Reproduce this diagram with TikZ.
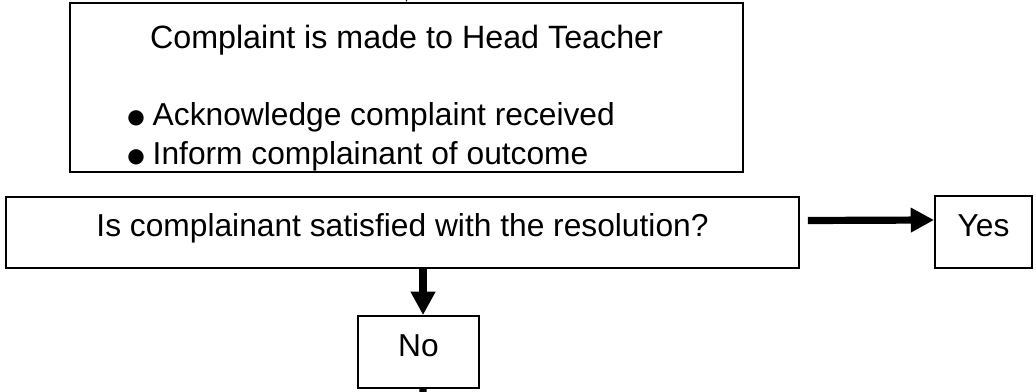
\documentclass[tikz,border=0pt]{standalone}
\usepackage{fontspec}
\setmainfont{Liberation Sans}
\newfontfamily\symfont{DejaVu Sans}
\usetikzlibrary{arrows.meta}
\newcommand{\blt}{\raisebox{1.5pt}{\symfont\fontsize{15}{15}\selectfont ●}}

\begin{document}
\begin{tikzpicture}[x=0.75pt,y=-0.75pt,
  box/.style={draw, line width=1.4pt, inner sep=0pt},
  txt/.style={inner sep=0pt, font=\fontsize{23.8}{28}\selectfont},
  arr/.style={line width=5.4pt, -{Triangle[length=17.5pt,width=17.5pt]}}]
\useasboundingbox (0,0) rectangle (1036,392);
% boxes
\node[box, minimum width=673*0.75pt, minimum height=169*0.75pt] (head) at (406.5,87.5) {};
\node[box, minimum width=793*0.75pt, minimum height=71*0.75pt] (ask) at (402.5,232.5) {};
\node[box, minimum width=97*0.75pt, minimum height=72*0.75pt] (yes) at (983.5,232) {};
\node[box, minimum width=121*0.75pt, minimum height=72*0.75pt] (no) at (418.5,352) {};
% texts
\node[txt, anchor=base, font=\fontsize{24.2}{29}\selectfont] (title) at (406.5,49) {Complaint is made to Head Teacher};
\node[txt, anchor=base west] (ack) at (127,126) {\blt\hspace{6pt}Acknowledge complaint received};
\node[txt, anchor=base west] (inform) at (127,165) {\blt\hspace{6pt}Inform complainant of outcome};
\node[txt, anchor=base] (asktext) at (402.5,237) {Is complainant satisfied with the resolution?};
\node[txt, anchor=base] (yestext) at (983.5,237) {Yes};
\node[txt, anchor=base] (notext) at (418.5,356) {No};
% connectors
\coordinate (in) at (406.5,-60);
\coordinate (out) at (423,420);
\draw[arr] (in) -- (head.north);
\draw[arr] ([shift={(8,-12)}]ask.east) -- ([shift={(0,-12)}]yes.west);
\draw[arr] ([xshift=3.4pt]ask.south -| no.north) -- ([xshift=3.4pt]no.north);
\draw[line width=5.4pt] ([xshift=3.4pt]no.south) -- (out);
\end{tikzpicture}
\end{document}
